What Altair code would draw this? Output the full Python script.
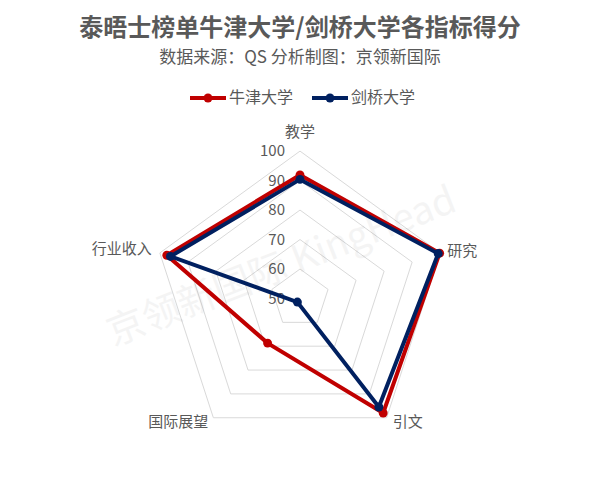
import math
import altair as alt
import pandas as pd

# ---------------- data ----------------
title_text = "泰晤士榜单牛津大学/剑桥大学各指标得分"
subtitle_text = "数据来源：QS 分析制图：京领新国际"
watermark_text = "京领新国际 KingHead"
categories = ["教学", "研究", "引文", "国际展望", "行业收入"]
series = ["牛津大学", "剑桥大学"]
oxford = [91.9, 99.8, 98.0, 68.7, 97.5]
cambridge = [90.4, 99.3, 95.5, 51.5, 96.2]
ticks = [50, 60, 70, 80, 90, 100]
colors = ["#C00000", "#002060"]

RMIN = 50
N = len(categories)
FONT = "Noto Sans CJK SC"
GREY = "#595959"

rows = []
for s, vals in zip(series, [oxford, cambridge]):
    for i in range(N + 1):
        k = i % N
        rows.append({"series": s, "cat": categories[k], "idx": i, "value": vals[k]})
data = pd.DataFrame(rows)

grid_rows = []
for t in ticks:
    for i in range(N + 1):
        grid_rows.append({"tick": t, "idx": i, "value": t})
grid = pd.DataFrame(grid_rows)

tick_df = pd.DataFrame({"tick": ticks, "label": [str(t) for t in ticks]})
cat_df = pd.DataFrame({"cat": categories, "idx": list(range(N)), "value": [ticks[-1]] * N})

# layout: left padding, plot area size, radar centre (plot px), pixels per score unit
PADL = 20
W, H = 560, 462
CX, CY = 292 - PADL, 290.5
PPU = 2.948
XS = alt.Scale(domain=[-CX / PPU, (W - CX) / PPU], nice=False, zero=False)
YS = alt.Scale(domain=[-(H - CY) / PPU, CY / PPU], nice=False, zero=False)

ang = f"datum.idx * 2 * PI / {N}"
calc = dict(
    px=f"(datum.value - {RMIN}) * sin({ang})",
    py=f"(datum.value - {RMIN}) * cos({ang})",
)

def xy():
    return dict(
        x=alt.X("px:Q", scale=XS, axis=None),
        y=alt.Y("py:Q", scale=YS, axis=None),
    )

# grid pentagons
grid_layer = alt.Chart(grid).transform_calculate(**calc).mark_line(
    color="#D9D9D9", strokeWidth=1
).encode(**xy(), detail="tick:N", order="idx:Q")

# tick labels
tick_layer = alt.Chart(tick_df).transform_calculate(
    px="0", py=f"datum.tick - {RMIN}"
).mark_text(
    align="right", baseline="middle", dx=-15, font=FONT, fontSize=15, color=GREY
).encode(**xy(), text="label:N")

# watermark
wm = alt.Chart(pd.DataFrame({"t": [watermark_text]})).mark_text(
    font=FONT, fontSize=38, color="#000000", opacity=0.04, angle=338.5,
    align="center", baseline="middle"
).encode(x=alt.value(274 - PADL), y=alt.value(260), text="t:N")

series_layers = []
for s, c in zip(series, colors):
    base = alt.Chart(data).transform_filter(alt.datum.series == s).transform_calculate(**calc)
    series_layers.append(
        base.mark_line(strokeWidth=4, color=c).encode(**xy(), order="idx:Q")
    )
    series_layers.append(
        base.transform_filter(alt.datum.idx < N).mark_circle(size=80, opacity=1, color=c).encode(**xy())
    )

# category labels
label_specs = {
    "教学": dict(align="center", dx=0, dy=-19),
    "研究": dict(align="left", dx=7, dy=-2),
    "引文": dict(align="left", dx=6, dy=4),
    "国际展望": dict(align="right", dx=-5, dy=4),
    "行业收入": dict(align="right", dx=-8, dy=-4),
}
label_layers = []
for cat in categories:
    sp = label_specs[cat]
    label_layers.append(
        alt.Chart(cat_df).transform_filter(alt.datum.cat == cat).transform_calculate(**calc)
        .mark_text(baseline="middle", font=FONT, fontSize=15, color=GREY, **sp)
        .encode(**xy(), text="cat:N")
    )

# titles
title_layer = alt.Chart(pd.DataFrame({"t": [title_text]})).mark_text(
    font=FONT, fontSize=24, fontWeight="bold", color=GREY, align="center", baseline="middle"
).encode(x=alt.value(CX), y=alt.value(21), text="t:N")
sub_layer = alt.Chart(pd.DataFrame({"t": [subtitle_text]})).mark_text(
    font=FONT, fontSize=17, color=GREY, align="center", baseline="middle"
).encode(x=alt.value(CX), y=alt.value(50), text="t:N")

# legend (manual)
legend_layers = []
lx = [182 - PADL, 304 - PADL]
for s, c, x0 in zip(series, colors, lx):
    ldf = pd.DataFrame({"s": [s]})
    legend_layers.append(
        alt.Chart(ldf).mark_rule(color=c, strokeWidth=4).encode(
            x=alt.value(x0), x2=alt.value(x0 + 36), y=alt.value(90), y2=alt.value(90)
        )
    )
    legend_layers.append(
        alt.Chart(ldf).mark_circle(color=c, size=80, opacity=1).encode(
            x=alt.value(x0 + 18), y=alt.value(90)
        )
    )
    legend_layers.append(
        alt.Chart(ldf).mark_text(
            font=FONT, fontSize=16, color=GREY, align="left", baseline="middle"
        ).encode(x=alt.value(x0 + 39), y=alt.value(90), text="s:N")
    )

chart = alt.layer(
    grid_layer, wm, tick_layer, *series_layers, *label_layers,
    title_layer, sub_layer, *legend_layers
).properties(
    width=W, height=H, autosize=alt.AutoSizeParams(type="none"),
    padding={"left": PADL, "top": 0, "right": 0, "bottom": 0}
).configure(
    background="white",
    view=alt.ViewConfig(stroke="transparent", strokeWidth=0),
)

chart.save("out.html", embed_options={"renderer": "svg", "actions": False})
